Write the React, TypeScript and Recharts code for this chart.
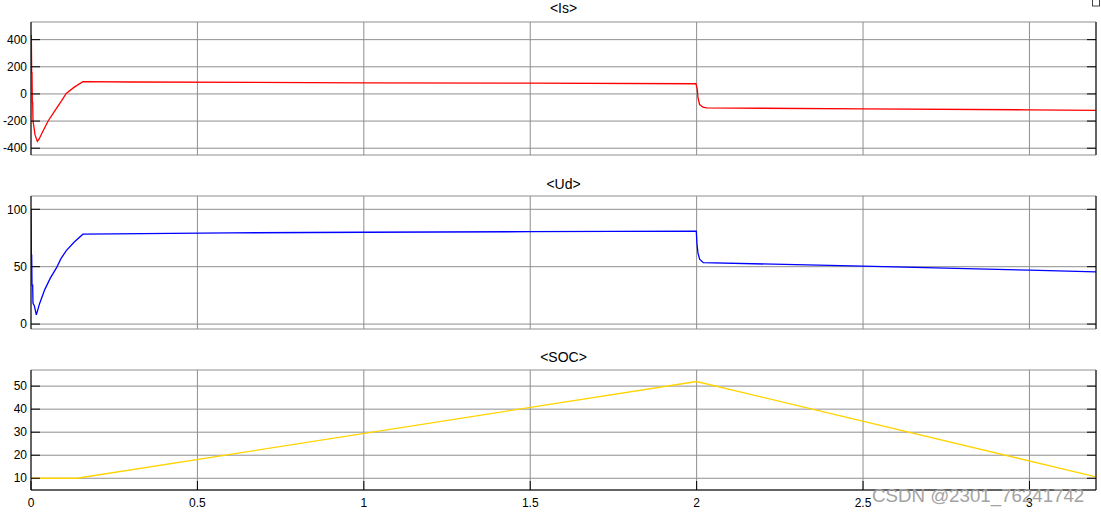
import React from "react";
import { LineChart, Line, XAxis, YAxis, CartesianGrid } from "recharts";

// ---- Data ----
const xTicks = [0, 0.5, 1, 1.5, 2, 2.5, 3];

const isTime = [0, 0.001, 0.002, 0.003, 0.004, 0.005, 0.006, 0.008, 0.012, 0.019, 0.025, 0.033, 0.042, 0.051, 0.066, 0.081, 0.094, 0.106, 0.13, 0.156, 0.3, 1.0, 1.5, 1.998, 2.002, 2.004, 2.009, 2.019, 2.03, 2.5, 3.0, 3.2];
const isValues = [433, 430, 157, 157, -63, -63, -201, -230, -300, -350, -330, -288, -245, -201, -145, -90, -42, 4, 50, 90, 88, 82, 79, 75, 33, -28, -78, -98, -103, -110, -117, -121];

const udTime = [0, 0.001, 0.002, 0.003, 0.005, 0.006, 0.01, 0.016, 0.026, 0.041, 0.058, 0.076, 0.09, 0.106, 0.13, 0.156, 0.6, 1.0, 1.5, 1.999, 2.001, 2.004, 2.009, 2.02, 2.5, 3.0, 3.2];
const udValues = [100, 60, 60, 34, 34, 18, 16, 8, 18, 29.8, 40, 48.7, 57, 64, 71.5, 78.3, 79.5, 80, 80.5, 81, 70, 62, 56.5, 53.5, 50.5, 47, 45.5];

const socTime = [0, 0.138, 2.0, 3.2];
const socValues = [10, 10, 52, 10.6];

const isData = isTime.map((t, i) => ({ t, v: isValues[i] }));
const udData = udTime.map((t, i) => ({ t, v: udValues[i] }));
const socData = socTime.map((t, i) => ({ t, v: socValues[i] }));

const FONT = "Arial, 'Liberation Sans', sans-serif";
const GRID = "#8e8e8e";
const TL = 9;

const LeftTick = (props: any) => {
  const { x, y, payload } = props;
  return (
    <g>
      <line x1={x} x2={x + TL} y1={y} y2={y} stroke="#000" />
      <text x={x - 4} y={y} dy={4.2} textAnchor="end" fontSize={12} fontFamily={FONT} fill="#000">
        {payload.value}
      </text>
    </g>
  );
};
const RightTick = (props: any) => {
  const { x, y } = props;
  return <line x1={x - TL} x2={x} y1={y} y2={y} stroke="#000" />;
};
const TopTick = (props: any) => {
  const { x, y } = props;
  return <line x1={x} x2={x} y1={y} y2={y + TL} stroke="#000" />;
};
const BottomTickNoLabel = (props: any) => {
  const { x, y } = props;
  return <line x1={x} x2={x} y1={y - TL} y2={y} stroke="#000" />;
};
const BottomTickLabel = (props: any) => {
  const { x, y, payload } = props;
  return (
    <g>
      <line x1={x} x2={x} y1={y - TL} y2={y} stroke="#000" />
      <text x={x} y={y + 17} textAnchor="middle" fontSize={12} fontFamily={FONT} fill="#000">
        {payload.value}
      </text>
    </g>
  );
};

type PanelProps = {
  data: { t: number; v: number }[];
  color: string;
  domain: [number, number];
  ticks: number[];
  top: number;
  height: number;
  mTop: number;
  mBottom: number;
  showX: boolean;
};

const Panel = ({ data, color, domain, ticks, top, height, mTop, mBottom, showX }: PanelProps) => (
  <div style={{ position: "absolute", left: 0, top }}>
    <LineChart width={1101} height={height} data={data} margin={{ top: mTop, right: 0, bottom: mBottom, left: 0 }}>
      <CartesianGrid stroke={GRID} strokeWidth={1} xAxisId="b" yAxisId="l" />
      <XAxis
        xAxisId="b"
        dataKey="t"
        type="number"
        domain={[0, 3.2]}
        allowDataOverflow
        ticks={xTicks}
        orientation="bottom"
        height={showX ? 20 : 0}
        tickSize={0}
        tickMargin={0}
        tickLine={false}
        axisLine={{ stroke: "#000" }}
        tick={showX ? BottomTickLabel : BottomTickNoLabel}
        interval={0}
      />
      <XAxis
        xAxisId="t"
        dataKey="t"
        type="number"
        domain={[0, 3.2]}
        allowDataOverflow
        ticks={xTicks}
        orientation="top"
        height={0}
        tickSize={0}
        tickMargin={0}
        tickLine={false}
        axisLine={{ stroke: "#000" }}
        tick={TopTick}
        interval={0}
      />
      <YAxis
        yAxisId="l"
        type="number"
        domain={domain}
        allowDataOverflow
        ticks={ticks}
        width={31}
        tickSize={0}
        tickMargin={0}
        tickLine={false}
        axisLine={{ stroke: "#000" }}
        tick={LeftTick}
        interval={0}
      />
      <YAxis
        yAxisId="r"
        orientation="right"
        type="number"
        domain={domain}
        allowDataOverflow
        ticks={ticks}
        width={5}
        tickSize={0}
        tickMargin={0}
        tickLine={false}
        axisLine={{ stroke: "#000" }}
        tick={RightTick}
        interval={0}
      />
      <Line
        xAxisId="b"
        yAxisId="l"
        type="linear"
        dataKey="v"
        stroke={color}
        strokeWidth={1.3}
        dot={false}
        isAnimationActive={false}
      />
    </LineChart>
  </div>
);

export default function App() {
  return (
    <div style={{ position: "absolute", left: 0, top: 0, width: 1101, height: 514, background: "#fff", overflow: "hidden" }}>
      <Panel data={isData} color="#ff0000" domain={[-450, 530]} ticks={[-400, -200, 0, 200, 400]} top={0} height={160} mTop={22} mBottom={5} showX={false} />
      <Panel data={udData} color="#0000ff" domain={[-4.3, 111.6]} ticks={[0, 50, 100]} top={170} height={165} mTop={26} mBottom={6} showX={false} />
      <Panel data={socData} color="#ffd400" domain={[4.9, 57]} ticks={[10, 20, 30, 40, 50]} top={344} height={170} mTop={26} mBottom={4} showX={true} />
      <svg width={1101} height={514} style={{ position: "absolute", left: 0, top: 0, pointerEvents: "none" }}>
        <text x={563.5} y={13} textAnchor="middle" fontSize={14} fontFamily={FONT} fill="#000">{"<Is>"}</text>
        <text x={563.5} y={188.5} textAnchor="middle" fontSize={14} fontFamily={FONT} fill="#000">{"<Ud>"}</text>
        <text x={563.5} y={361.5} textAnchor="middle" fontSize={14} fontFamily={FONT} fill="#000">{"<SOC>"}</text>
        <rect x={1092.5} y={-1} width={7} height={7} fill="none" stroke="#444" strokeWidth={1} />
        <text x={872} y={502} fontSize={18.7} fontFamily={FONT} fill="#a3a3a3">CSDN @2301_76241742</text>
      </svg>
    </div>
  );
}
